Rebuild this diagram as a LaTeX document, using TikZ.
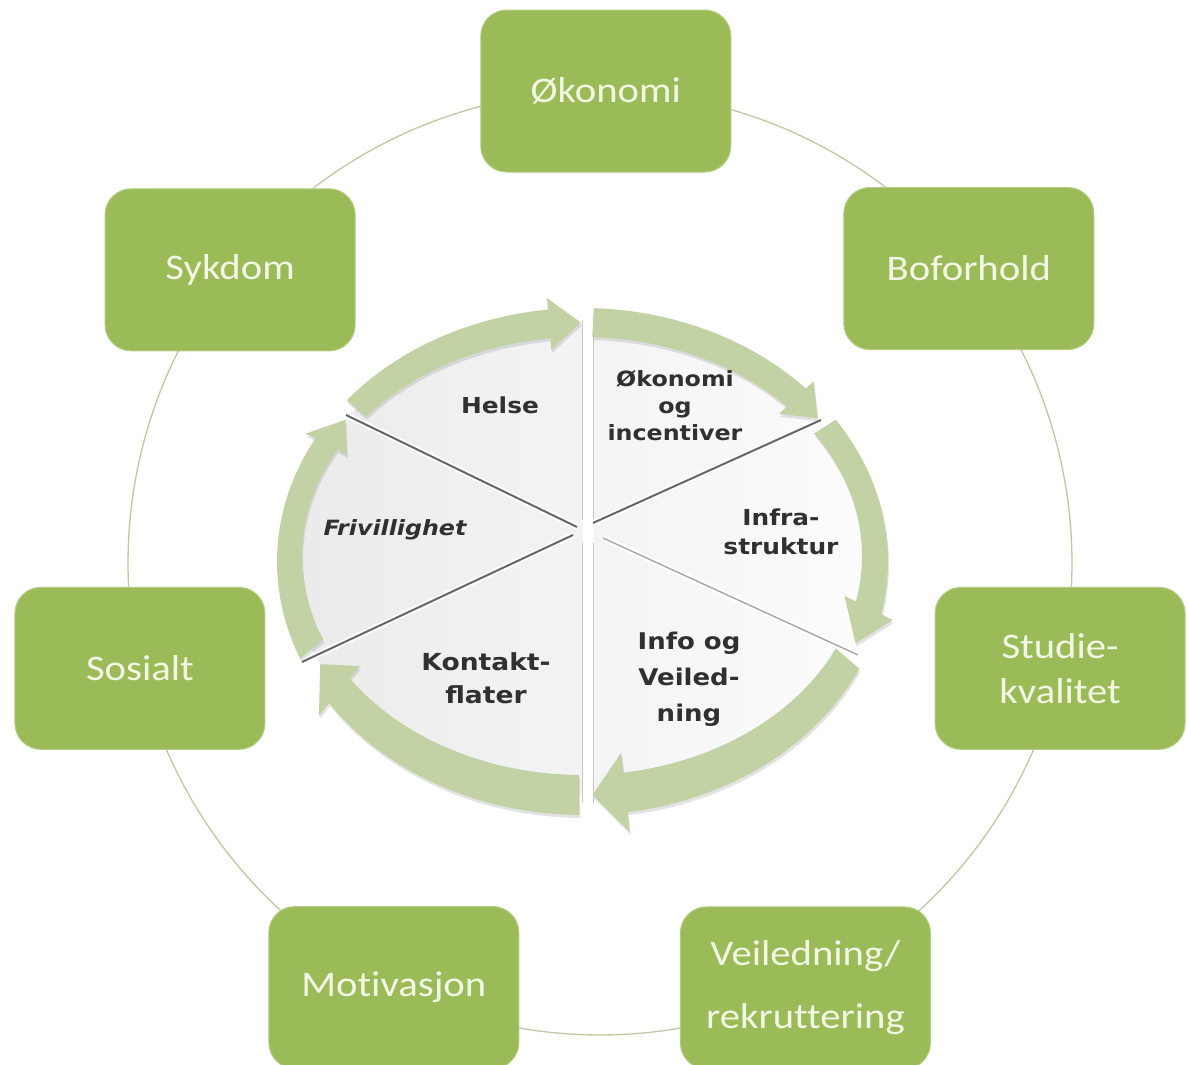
\documentclass[tikz,border=0pt]{standalone}
\usepackage{fontspec}
\setmainfont{Carlito}[FakeStretch=1.13, Ligatures=NoCommon]
\newfontfamily\piefont{DejaVu Sans}[FakeStretch=1.13]
\usetikzlibrary{backgrounds,shadows}
\definecolor{boxgreen}{RGB}{155,187,89}
\definecolor{boxtext}{RGB}{242,248,228}
\definecolor{ringline}{RGB}{192,200,162}
\definecolor{arrowgreen}{RGB}{194,210,164}
\definecolor{pietext}{RGB}{48,48,48}
\newcommand\ringarrow[4]{% tail angle, head base angle, tip angle, head factor
  \fill[arrowgreen, drop shadow={shadow xshift=1pt, shadow yshift=-3pt, opacity=0.22}]
    plot[domain=#1:#2, samples=40] ({582.5+305.5*cos(\x)},{503.5+253.5*sin(\x)})
    -- ({582.25+0.25*#4+(292.75+12.75*#4)*cos(#2)},{506.25-2.75*#4+(236.25+17.25*#4)*sin(#2)})
    -- ({582.25+292.75*cos(#3)},{506.25+236.25*sin(#3)})
    -- ({582.25-0.25*#4+(292.75-12.75*#4)*cos(#2)},{506.25+2.75*#4+(236.25-17.25*#4)*sin(#2)})
    -- plot[domain=#2:#1, samples=40] ({582+280*cos(\x)},{509+219*sin(\x)})
    -- cycle;}
\begin{document}
\begin{tikzpicture}[x=1pt,y=1pt,
  factor/.style={rectangle, rounded corners=26pt, fill=boxgreen, draw=boxgreen!75!white, line width=1pt,
    minimum width=250pt, minimum height=162pt, text=boxtext, align=center, inner sep=0pt,
    font=\fontsize{36}{45}\selectfont},
  pielabel/.style={text=pietext, align=center, inner sep=0pt},
  ring/.style={draw=ringline, line width=1.3pt},
  darkdiv/.style={draw=black!60, line width=2pt},
  lightdiv/.style={draw=black!35, line width=1.4pt},
  gapband/.style={draw=white, line width=6pt}
]
\useasboundingbox (0,0) rectangle (1187,1065);

% ---------------- outer factors ----------------
\begin{scope}[shift={(600,502)}]
  \node[factor] (oko) at (89.3:472) {Økonomi};
  \node[factor] (bof) at (38.6:472) {Boforhold};
  \node[factor] (stu) at (-12.9:472) {Studie-\\kvalitet};
  \node[factor] (vei) at (-64.2:472) {Veiledning/\\[18pt]rekruttering};
  \node[factor] (mot) at (-115.9:472) {Motivasjon};
  \node[factor] (sos) at (-167.1:472) {Sosialt};
  \node[factor] (syk) at (-218.4:472) {Sykdom};
\end{scope}

\begin{scope}[on background layer]
  \fill[white] (0,0) rectangle (1187,1065);
  \draw[ring] (oko.center) arc[start angle=89.3, end angle=38.6, radius=472pt];
  \draw[ring] (bof.center) arc[start angle=38.6, end angle=-12.9, radius=472pt];
  \draw[ring] (stu.center) arc[start angle=-12.9, end angle=-64.2, radius=472pt];
  \draw[ring] (vei.center) arc[start angle=-64.2, end angle=-115.9, radius=472pt];
  \draw[ring] (mot.center) arc[start angle=-115.9, end angle=-167.1, radius=472pt];
  \draw[ring] (sos.center) arc[start angle=-167.1, end angle=-218.4, radius=472pt];
  \draw[ring] (syk.center) arc[start angle=141.6, end angle=89.3, radius=472pt];
\end{scope}

% ---------------- pie ----------------
\shade[left color=black!8, right color=black!1] (582.25,506.25) ellipse[x radius=292.75pt, y radius=236.25pt];

% vertical gap
\draw[white, line width=11pt] (588,255) -- (588,758);
\draw[black!22, line width=0.8pt] (582.5,262) -- (582.5,522);
\draw[black!22, line width=0.8pt] (582.5,545) -- (582.5,745);
\draw[black!22, line width=0.8pt] (593.5,262) -- (593.5,522);
\draw[black!22, line width=0.8pt] (593.5,545) -- (593.5,745);

% diagonal gaps
\coordinate (hUL) at (577,538);  \coordinate (eUL) at (346,650);
\coordinate (hLL) at (573,530);  \coordinate (eLL) at (302,403);
\coordinate (hUR) at (593,542);  \coordinate (eUR) at (821,645);
\coordinate (hLR) at (603,527);  \coordinate (eLR) at (858,410);
\draw[gapband, yshift=-4pt] (hUL) -- (eUL);
\draw[gapband, yshift=-4pt] (hLL) -- (eLL);
\draw[gapband, yshift=-4pt] (hUR) -- (eUR);
\draw[gapband, yshift=3pt] (hLR) -- (eLR);
\draw[darkdiv] (hUL) -- (eUL);
\draw[darkdiv] (hLL) -- (eLL);
\draw[darkdiv] (hUR) -- (eUR);
\draw[lightdiv] (hLR) -- (eLR);

% ---------------- cycle arrows ----------------
\ringarrow{140.5}{96.5}{90.3}{1.8}
\ringarrow{87.9}{43}{36.5}{1.8}
\ringarrow{34}{-12}{-21}{1.9}
\ringarrow{-25}{-81.5}{-88}{2.0}
\ringarrow{-90.6}{-146}{-153.5}{2.0}
\ringarrow{-157.5}{-209}{-216}{1.9}

% ---------------- pie labels ----------------
\node[pielabel, font=\piefont\bfseries\fontsize{22}{27}\selectfont] (helse) at (500,660) {Helse};
\node[pielabel, font=\piefont\bfseries\fontsize{21}{27}\selectfont] (okon) at (675,659) {Økonomi\\og\\incentiver};
\node[pielabel, font=\piefont\bfseries\itshape\fontsize{21}{27}\selectfont] (friv) at (395,535) {Frivillighet};
\node[pielabel, font=\piefont\bfseries\fontsize{22}{29}\selectfont] (infra) at (781,533) {Infra-\\struktur};
\node[pielabel, font=\piefont\bfseries\fontsize{23.5}{33}\selectfont] (kont) at (486,387) {Kontakt-\\flater};
\node[pielabel, font=\piefont\bfseries\fontsize{23}{36}\selectfont] (info) at (689,386) {Info og\\Veiled-\\ning};
\end{tikzpicture}
\end{document}
